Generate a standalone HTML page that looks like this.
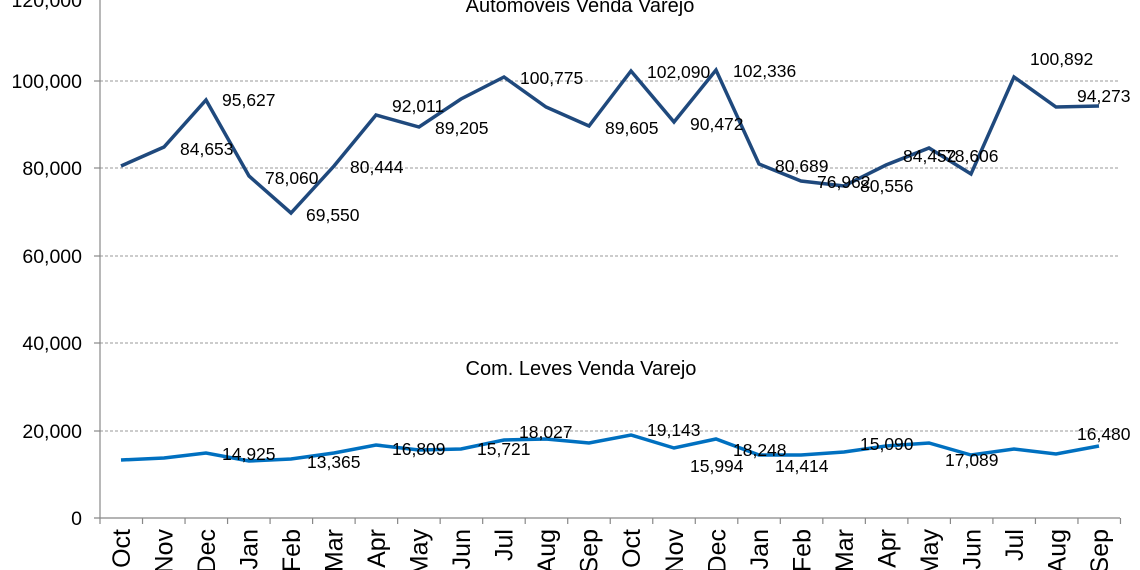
<!DOCTYPE html>
<html><head><style>body{margin:0;background:#fff}svg{display:block}text{font-family:"Liberation Sans",sans-serif}</style></head><body>
<svg width="1140" height="570" viewBox="0 0 1140 570" xmlns="http://www.w3.org/2000/svg">
<g stroke="#999" stroke-dasharray="3,2" stroke-width="1">
<line x1="100" y1="81" x2="1120" y2="81"/><line x1="100" y1="168" x2="1120" y2="168"/><line x1="100" y1="256" x2="1120" y2="256"/><line x1="100" y1="343" x2="1120" y2="343"/><line x1="100" y1="431" x2="1120" y2="431"/>
</g>
<g stroke="#888" stroke-width="1.2">
<line x1="100" y1="0" x2="100" y2="518"/><line x1="94" y1="518" x2="1120" y2="518"/>
<line x1="94" y1="81" x2="100" y2="81"/><line x1="94" y1="168" x2="100" y2="168"/><line x1="94" y1="256" x2="100" y2="256"/><line x1="94" y1="343" x2="100" y2="343"/><line x1="94" y1="431" x2="100" y2="431"/>
</g>
<g id="ticks" stroke="#888" stroke-width="1.2"></g>
<g font-size="19.5" text-anchor="end" fill="#000">
<text x="82" y="7">120,000</text><text x="82" y="88">100,000</text><text x="82" y="175">80,000</text><text x="82" y="263">60,000</text><text x="82" y="350">40,000</text><text x="82" y="438">20,000</text><text x="82" y="525">0</text>
</g>
<text x="580" y="12" font-size="20" text-anchor="middle">Automoveis Venda Varejo</text>
<text x="581" y="375" font-size="20" text-anchor="middle">Com. Leves Venda Varejo</text>
<polyline fill="none" stroke="#1F497D" stroke-width="3.5" points="121,166 164,147 206,100 249,176 291,213 334,166 376,115 419,127 461,99 504,77 546,107 589,126 631,71 674,122 716,70 759,164 801,181 844,186 886,165 929,148 971,174 1014,77 1056,107 1099,106"/>
<polyline fill="none" stroke="#0070C0" stroke-width="3.5" points="121,460 164,458 206,453 249,461 291,459 334,453 376,445 419,450 461,449 504,440 546,439 589,443 631,435 674,448 716,439 759,455 801,455 844,452 886,446 929,443 971,455 1014,449 1056,454 1099,446"/>
<g font-size="17.5" fill="#000">
<text x="222" y="106">95,627</text><text x="180" y="155">84,653</text><text x="265" y="184">78,060</text><text x="306" y="221">69,550</text><text x="350" y="173">80,444</text><text x="392" y="112">92,011</text><text x="435" y="134">89,205</text><text x="520" y="84">100,775</text><text x="605" y="134">89,605</text><text x="647" y="78">102,090</text><text x="690" y="130">90,472</text><text x="733" y="77">102,336</text><text x="775" y="172">80,689</text><text x="817" y="188">76,962</text><text x="860" y="192">80,556</text><text x="903" y="162">84,452</text><text x="945" y="162">78,606</text><text x="1030" y="65">100,892</text><text x="1077" y="102">94,273</text>
<text x="222" y="460">14,925</text><text x="307" y="468">13,365</text><text x="392" y="455">16,809</text><text x="477" y="455">15,721</text><text x="519" y="438">18,027</text><text x="647" y="436">19,143</text><text x="690" y="472">15,994</text><text x="733" y="456">18,248</text><text x="775" y="472">14,414</text><text x="860" y="450">15,090</text><text x="945" y="466">17,089</text><text x="1077" y="440">16,480</text>
</g>
<g id="xl" font-size="25" text-anchor="end"></g>
<script>
var m=["Oct","Nov","Dec","Jan","Feb","Mar","Apr","May","Jun","Jul","Aug","Sep"];
var t=document.getElementById("ticks"),x=document.getElementById("xl"),ns="http://www.w3.org/2000/svg";
for(var i=0;i<=24;i++){var X=100+i*42.52;var l=document.createElementNS(ns,"line");l.setAttribute("x1",X);l.setAttribute("x2",X);l.setAttribute("y1",518);l.setAttribute("y2",524);t.appendChild(l);}
for(var i=0;i<24;i++){var cx=121+i*42.52;var e=document.createElementNS(ns,"text");e.setAttribute("transform","translate("+(cx+9)+",529) rotate(-90)");e.textContent=m[i%12];x.appendChild(e);}
</script>
</svg>
</body></html>
